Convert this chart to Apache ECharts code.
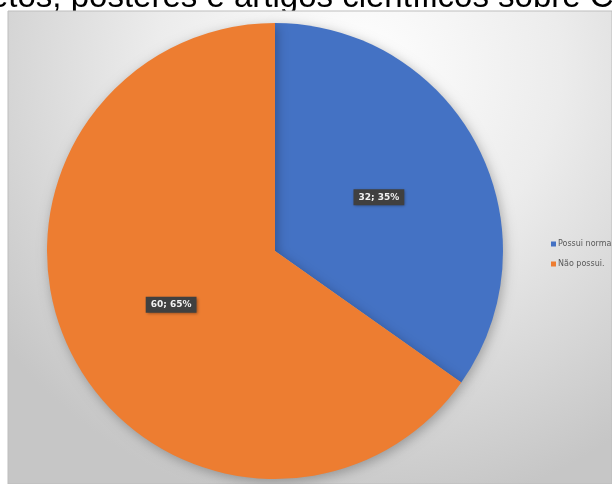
<!DOCTYPE html>
<html>
<head>
<meta charset="utf-8">
<style>
  html, body { margin: 0; padding: 0; background: #ffffff; }
  #chart { width: 612px; height: 484px; }
</style>
<script src="https://cdn.jsdelivr.net/npm/echarts@6/dist/echarts.min.js"></script>
</head>
<body>
<div id="chart"></div>
<script>
// Categories and counts
const categories = ['Possui normas.', 'Não possui.'];
const counts = [32, 60];
const sliceColors = ['#4472C4', '#ED7D31'];
const titleText = 'etos, posteres e artigos científicos sobre C';

const chart = echarts.init(document.getElementById('chart'), null, { renderer: 'canvas' });

const pieData = categories.map((name, i) => ({
  name: name,
  value: counts[i],
  itemStyle: { color: sliceColors[i] }
}));

chart.setOption({
  animation: false,
  backgroundColor: '#ffffff',
  graphic: [
    {
      type: 'text',
      z: -20,
      silent: true,
      x: -10,
      y: 14,
      style: {
        text: titleText,
        font: '33px "Liberation Sans", Arial, sans-serif',
        fill: '#000000',
        verticalAlign: 'bottom',
        align: 'left'
      }
    },
    {
      type: 'rect',
      z: -10,
      silent: true,
      shape: { x: 8, y: 11, width: 604, height: 473 },
      style: {
        fill: {
          type: 'radial',
          x: 0.58, y: 0.12, r: 0.95,
          colorStops: [
            { offset: 0, color: '#ffffff' },
            { offset: 0.45, color: '#ececec' },
            { offset: 1, color: '#c6c6c6' }
          ]
        },
        stroke: '#bdbdbd',
        lineWidth: 1
      }
    }
  ],
  legend: {
    orient: 'vertical',
    left: 546,
    top: 235,
    itemWidth: 5,
    itemHeight: 5,
    itemGap: 12,
    icon: 'rect',
    textStyle: {
      fontFamily: '"DejaVu Sans", sans-serif',
      fontSize: 8,
      color: '#595959',
      padding: [0, 0, 0, -3]
    },
    data: categories
  },
  series: [
    {
      type: 'pie',
      center: [275, 251],
      radius: [0, 228],
      startAngle: 90,
      clockwise: true,
      percentPrecision: 0,
      avoidLabelOverlap: false,
      itemStyle: {
        borderWidth: 0,
        shadowBlur: 12,
        shadowOffsetX: 2,
        shadowOffsetY: 3,
        shadowColor: 'rgba(0,0,0,0.28)'
      },
      label: {
        show: true,
        position: 'inside',
        formatter: '{c}; {d}%',
        fontFamily: '"DejaVu Sans", sans-serif',
        fontSize: 9,
        fontWeight: 'bold',
        color: '#f2f2f2',
        backgroundColor: '#404040',
        padding: [4, 5, 3, 5],
        shadowBlur: 3,
        shadowOffsetX: 1,
        shadowOffsetY: 1,
        shadowColor: 'rgba(0,0,0,0.4)'
      },
      labelLine: { show: false },
      emphasis: { disabled: true },
      data: pieData
    }
  ]
});
</script>
</body>
</html>
